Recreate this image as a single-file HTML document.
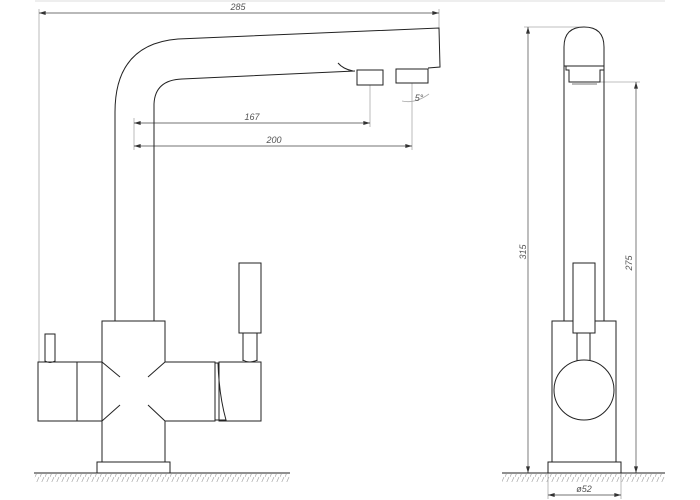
<!DOCTYPE html>
<html><head><style>html,body{margin:0;padding:0;background:#fff}svg{display:block}</style></head><body>
<svg width="700" height="500" viewBox="0 0 700 500" xmlns="http://www.w3.org/2000/svg">
<defs>
<pattern id="h" width="5" height="9" patternUnits="userSpaceOnUse"><line x1="0" y1="9" x2="4" y2="0" stroke="#aaa" stroke-width="0.7"/></pattern>
<marker id="a" viewBox="0 0 10 6" refX="10" refY="3" markerWidth="9" markerHeight="4" markerUnits="userSpaceOnUse" orient="auto-start-reverse"><path d="M0,0 L10,3 L0,6 z" fill="#333"/></marker>
</defs>
<line x1="35" y1="1" x2="665" y2="1" stroke="#eee" stroke-width="2"/>
<g fill="none" stroke="#aaa" stroke-width="0.8">
<line x1="39" y1="9" x2="39" y2="362"/><line x1="439" y1="9" x2="439" y2="30"/>
<line x1="134" y1="118" x2="134" y2="150"/><line x1="370" y1="85" x2="370" y2="127"/><line x1="412" y1="83" x2="412" y2="150"/>
<line x1="524" y1="27" x2="584" y2="27"/><line x1="586" y1="82" x2="640" y2="82"/>
<line x1="548" y1="473" x2="548" y2="499"/><line x1="621" y1="473" x2="621" y2="499"/>
<path d="M402,101 Q415,104 429,94"/>
</g>
<g stroke="#444" stroke-width="0.7" marker-start="url(#a)" marker-end="url(#a)" fill="none">
<line x1="39" y1="13" x2="439" y2="13"/>
<line x1="134" y1="123" x2="370" y2="123"/>
<line x1="134" y1="146" x2="412" y2="146"/>
<line x1="528" y1="27" x2="528" y2="473"/>
<line x1="636" y1="82" x2="636" y2="473"/>
<line x1="548" y1="495" x2="621" y2="495"/>
</g>
<g font-family="Liberation Sans, sans-serif" font-size="9" font-style="italic" fill="#555" text-anchor="middle">
<text x="238" y="10">285</text>
<text x="252" y="120">167</text>
<text x="274" y="143">200</text>
<text x="419" y="101">5°</text>
<text x="584" y="492">ø52</text>
<text transform="translate(526,252) rotate(-90)">315</text>
<text transform="translate(632,263) rotate(-90)">275</text>
</g>
<g fill="none" stroke="#222" stroke-width="1">
<path d="M115,321 L115,112 Q115,44 178,39 L439,28 L440,67 L428,68"/>
<path d="M154,321 L154,104 Q155,80 182,79 L355,71"/>
<path d="M338,63 Q343,69 353,71"/>
<rect x="357" y="70" width="26" height="15"/>
<rect x="396" y="69" width="32" height="14"/>
<path d="M102,362 L102,321 L165,321 L165,362"/>
<path d="M102,421 L102,462 L165,462 L165,421"/>
<rect x="97" y="462" width="73" height="11"/>
<rect x="38" y="362" width="64" height="59"/>
<line x1="77" y1="362" x2="77" y2="421"/>
<path d="M45,362 L45,334 L55,334 L55,362"/>
<path d="M45,361 Q50,364 55,361"/>
<path d="M165,362 L215,362 L215,421 L165,421"/>
<path d="M215,363 L218,363 Q219,395 226,420 L215,420"/>
<rect x="219" y="362" width="42" height="59"/>
<rect x="239" y="263" width="22" height="70"/>
<path d="M243,333 L243,361 M257,333 L257,361 M243,360 Q250,364 257,360"/>
<line x1="102" y1="362" x2="120" y2="377"/>
<line x1="165" y1="362" x2="148" y2="377"/>
<line x1="102" y1="421" x2="120" y2="405"/>
<line x1="165" y1="421" x2="148" y2="405"/>
<line x1="34" y1="473" x2="290" y2="473"/>
</g>
<rect x="34" y="474" width="256" height="8" fill="url(#h)"/>
<g fill="none" stroke="#222" stroke-width="1">
<path d="M564,321 L564,47 Q564,27 584,27 Q604,27 604,47 L604,321"/>
<line x1="564" y1="66" x2="604" y2="66"/>
<path d="M566,66 L566,70 L569,70 L569,82 L600,82 L600,70 L604,70"/>
<line x1="572" y1="84" x2="597" y2="84" stroke="#777"/>
<rect x="552" y="321" width="64" height="141"/>
<rect x="548" y="462" width="73" height="11"/>
<rect x="573" y="263" width="22" height="70" fill="#fff"/>
<path d="M577,333 L577,362 M590,333 L590,362"/>
<circle cx="584" cy="390" r="30" fill="#fff"/>
<line x1="502" y1="473" x2="665" y2="473"/>
</g>
<rect x="502" y="474" width="163" height="8" fill="url(#h)"/>
</svg>
</body></html>
